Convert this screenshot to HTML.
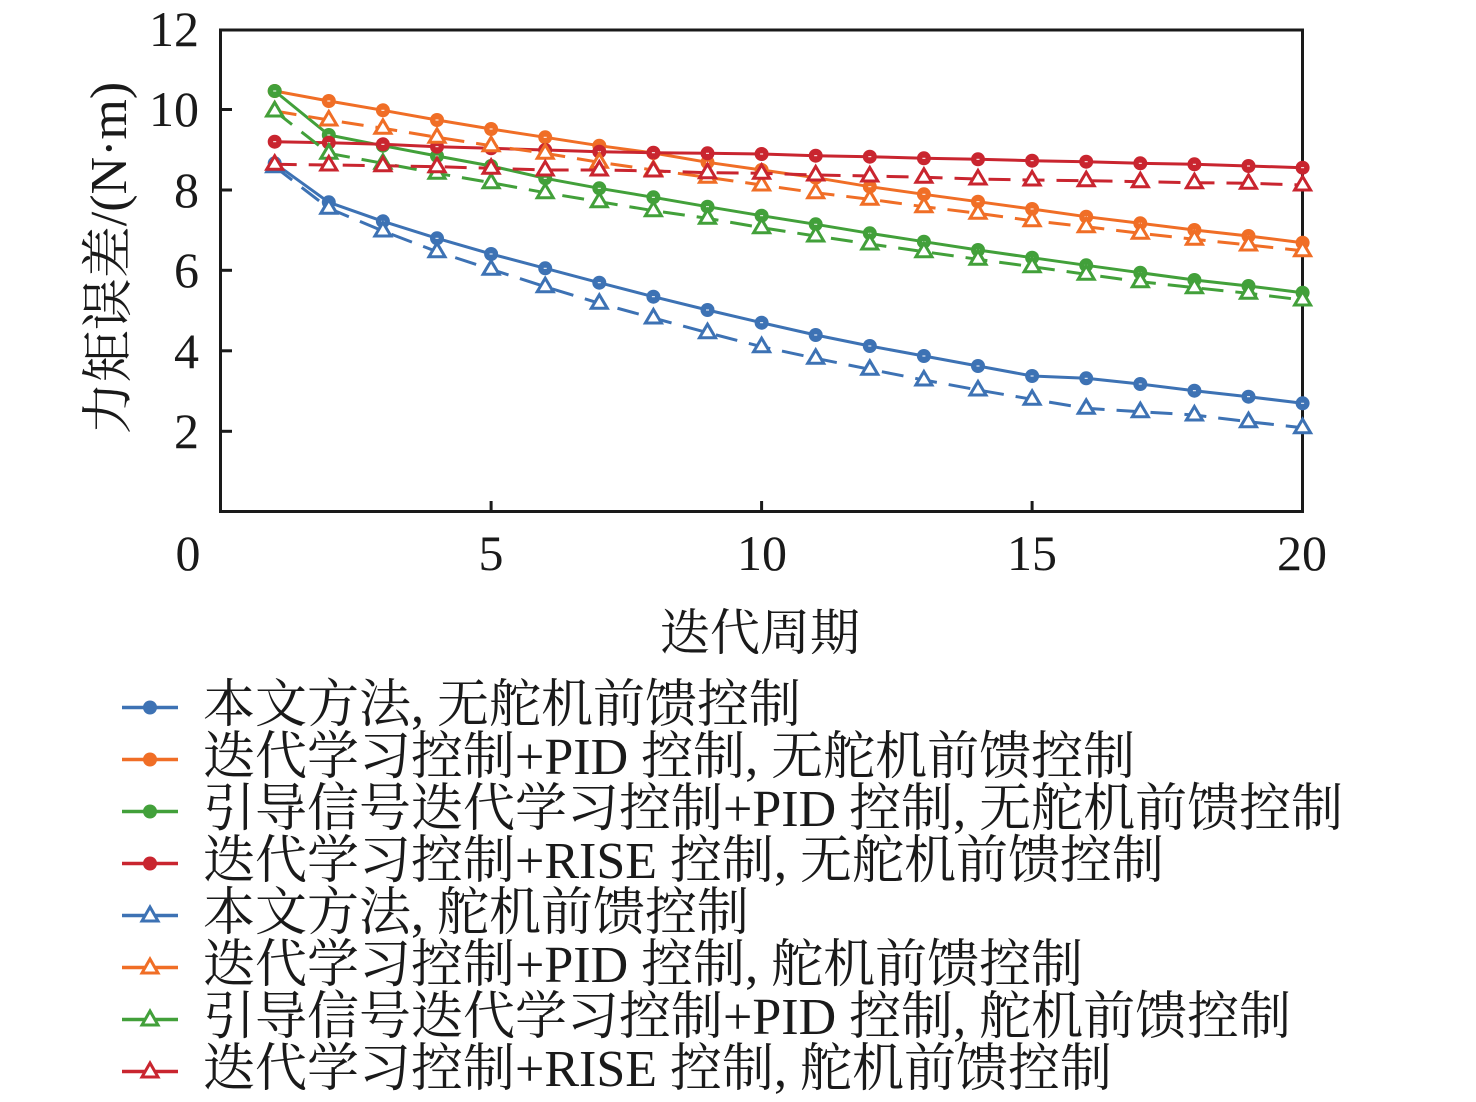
<!DOCTYPE html>
<html>
<head>
<meta charset="utf-8">
<style>
html,body{margin:0;padding:0;background:#fff;}
svg{display:block;}
text{font-family:"Liberation Serif","Noto Serif CJK SC",serif;fill:#1a1a1a;}
</style>
</head>
<body>
<svg width="1476" height="1102" viewBox="0 0 1476 1102" xmlns="http://www.w3.org/2000/svg">
<defs>
  <marker id="cB" markerWidth="24" markerHeight="24" refX="12" refY="12" markerUnits="userSpaceOnUse" overflow="visible"><circle cx="12" cy="12" r="7" fill="#3d72b4"/><line x1="10.5" y1="12" x2="13.5" y2="12" stroke="#fff" stroke-width="1"/></marker>
  <marker id="cO" markerWidth="24" markerHeight="24" refX="12" refY="12" markerUnits="userSpaceOnUse" overflow="visible"><circle cx="12" cy="12" r="7" fill="#f06e26"/><line x1="10.5" y1="12" x2="13.5" y2="12" stroke="#fff" stroke-width="1"/></marker>
  <marker id="cG" markerWidth="24" markerHeight="24" refX="12" refY="12" markerUnits="userSpaceOnUse" overflow="visible"><circle cx="12" cy="12" r="7" fill="#42a03a"/><line x1="10.5" y1="12" x2="13.5" y2="12" stroke="#fff" stroke-width="1"/></marker>
  <marker id="cR" markerWidth="24" markerHeight="24" refX="12" refY="12" markerUnits="userSpaceOnUse" overflow="visible"><circle cx="12" cy="12" r="7" fill="#c9252f"/><line x1="10.5" y1="12" x2="13.5" y2="12" stroke="#fff" stroke-width="1"/></marker>
  <marker id="tB" markerWidth="24" markerHeight="24" refX="12" refY="12" markerUnits="userSpaceOnUse" overflow="visible"><path d="M12,3.5 L20,17 L4,17 Z" fill="#fff" stroke="#3d72b4" stroke-width="3"/></marker>
  <marker id="tO" markerWidth="24" markerHeight="24" refX="12" refY="12" markerUnits="userSpaceOnUse" overflow="visible"><path d="M12,3.5 L20,17 L4,17 Z" fill="#fff" stroke="#f06e26" stroke-width="3"/></marker>
  <marker id="tG" markerWidth="24" markerHeight="24" refX="12" refY="12" markerUnits="userSpaceOnUse" overflow="visible"><path d="M12,3.5 L20,17 L4,17 Z" fill="#fff" stroke="#42a03a" stroke-width="3"/></marker>
  <marker id="tR" markerWidth="24" markerHeight="24" refX="12" refY="12" markerUnits="userSpaceOnUse" overflow="visible"><path d="M12,3.5 L20,17 L4,17 Z" fill="#fff" stroke="#c9252f" stroke-width="3"/></marker>
</defs>

<!-- axes box -->
<rect x="220.5" y="30" width="1082" height="481.5" fill="none" stroke="#1a1a1a" stroke-width="3"/>
<g stroke="#1a1a1a" stroke-width="3">
  <line x1="220" y1="30" x2="232" y2="30"/>
  <line x1="220" y1="109.5" x2="232" y2="109.5"/>
  <line x1="220" y1="190" x2="232" y2="190"/>
  <line x1="220" y1="270.3" x2="232" y2="270.3"/>
  <line x1="220" y1="350.8" x2="232" y2="350.8"/>
  <line x1="220" y1="431.3" x2="232" y2="431.3"/>
  <line x1="491.1" y1="511" x2="491.1" y2="501"/>
  <line x1="761.6" y1="511" x2="761.6" y2="501"/>
  <line x1="1032.1" y1="511" x2="1032.1" y2="501"/>
</g>

<g font-size="50" text-anchor="end">
  <text x="199" y="46">12</text>
  <text x="199" y="126">10</text>
  <text x="199" y="207">8</text>
  <text x="199" y="287">6</text>
  <text x="199" y="368">4</text>
  <text x="199" y="448">2</text>
</g>
<g font-size="50" text-anchor="middle">
  <text x="188" y="570">0</text>
  <text x="491" y="570">5</text>
  <text x="762" y="570">10</text>
  <text x="1032" y="570">15</text>
  <text x="1302" y="570">20</text>
</g>

<text x="760" y="650" font-size="50" text-anchor="middle">迭代周期</text>
<text transform="translate(126,258) rotate(-90)" font-size="52" text-anchor="middle">力矩误差/(N·m)</text>

<g fill="none" stroke-width="3" stroke-linejoin="round">
<polyline stroke="#3d72b4" marker-start="url(#cB)" marker-mid="url(#cB)" marker-end="url(#cB)"
 points="274.7,163.3 328.8,202.3 382.9,221.3 437,238.3 491.1,254 545.2,268.3 599.3,282.7 653.4,296.7 707.5,310 761.6,322.7 815.7,335 869.8,346 923.9,356 978,366 1032.1,376 1086.2,378.3 1140.3,384 1194.4,390.7 1248.5,396.7 1302.6,403.3"/>
<polyline stroke="#f06e26" marker-start="url(#cO)" marker-mid="url(#cO)" marker-end="url(#cO)"
 points="274.7,91 328.8,101 382.9,110.3 437,120 491.1,129 545.2,137.3 599.3,145.7 653.4,153 707.5,162.3 761.6,170 815.7,177.7 869.8,186.7 923.9,194.3 978,201.7 1032.1,209 1086.2,216.7 1140.3,223.3 1194.4,230 1248.5,236 1302.6,242.7"/>
<polyline stroke="#42a03a" marker-start="url(#cG)" marker-mid="url(#cG)" marker-end="url(#cG)"
 points="274.7,91 328.8,135 382.9,145.7 437,156 491.1,166 545.2,178.3 599.3,188.3 653.4,197.3 707.5,206.7 761.6,215.7 815.7,224.3 869.8,233.3 923.9,241.7 978,250 1032.1,257.7 1086.2,265.3 1140.3,272.7 1194.4,280 1248.5,286 1302.6,292.7"/>
<polyline stroke="#c9252f" marker-start="url(#cR)" marker-mid="url(#cR)" marker-end="url(#cR)"
 points="274.7,141.7 328.8,142.7 382.9,144.3 437,146.7 491.1,148.3 545.2,150 599.3,151.7 653.4,152.7 707.5,153.3 761.6,154 815.7,155.7 869.8,156.7 923.9,158.3 978,159.3 1032.1,160.7 1086.2,161.7 1140.3,163.3 1194.4,164.3 1248.5,166 1302.6,167.7"/>
</g>
<g fill="none" stroke-width="3" stroke-dasharray="22 12">
<polyline stroke="#3d72b4" marker-start="url(#tB)" marker-mid="url(#tB)" marker-end="url(#tB)"
 points="274.7,166.7 328.8,208.3 382.9,231 437,251.7 491.1,269.3 545.2,286.7 599.3,303.3 653.4,318 707.5,332.7 761.6,346.7 815.7,358.3 869.8,369.3 923.9,380 978,390 1032.1,399.3 1086.2,408.3 1140.3,411.7 1194.4,415 1248.5,421.7 1302.6,427.7"/>
<polyline stroke="#f06e26" marker-start="url(#tO)" marker-mid="url(#tO)" marker-end="url(#tO)"
 points="274.7,111 328.8,120 382.9,128.3 437,137.3 491.1,145.7 545.2,153.3 599.3,162.3 653.4,170 707.5,177.3 761.6,185 815.7,192.7 869.8,199.3 923.9,206.7 978,213.3 1032.1,220.7 1086.2,226.7 1140.3,233.3 1194.4,239.3 1248.5,245 1302.6,250.7"/>
<polyline stroke="#42a03a" marker-start="url(#tG)" marker-mid="url(#tG)" marker-end="url(#tG)"
 points="274.7,111 328.8,153.3 382.9,163.3 437,173.3 491.1,182.7 545.2,192.7 599.3,201.7 653.4,210.7 707.5,218.3 761.6,227.7 815.7,236 869.8,244 923.9,251.7 978,259.3 1032.1,266.7 1086.2,274.3 1140.3,281.7 1194.4,287.7 1248.5,293.3 1302.6,300"/>
<polyline stroke="#c9252f" marker-start="url(#tR)" marker-mid="url(#tR)" marker-end="url(#tR)"
 points="274.7,164.3 328.8,165 382.9,165.7 437,166.7 491.1,168.3 545.2,170 599.3,170 653.4,171 707.5,172.7 761.6,173.3 815.7,175 869.8,176 923.9,177.3 978,179 1032.1,180 1086.2,180.7 1140.3,181.7 1194.4,182.7 1248.5,183.3 1302.6,185"/>
</g>

<!-- legend -->
<g stroke-width="3.4">
  <line x1="122" y1="707.5" x2="178" y2="707.5" stroke="#3d72b4"/>
  <circle cx="150" cy="707.5" r="7" fill="#3d72b4" stroke="none"/>
  <line x1="122" y1="759.5" x2="178" y2="759.5" stroke="#f06e26"/>
  <circle cx="150" cy="759.5" r="7" fill="#f06e26" stroke="none"/>
  <line x1="122" y1="811.5" x2="178" y2="811.5" stroke="#42a03a"/>
  <circle cx="150" cy="811.5" r="7" fill="#42a03a" stroke="none"/>
  <line x1="122" y1="863.5" x2="178" y2="863.5" stroke="#c9252f"/>
  <circle cx="150" cy="863.5" r="7" fill="#c9252f" stroke="none"/>

  <line x1="122" y1="915.5" x2="178" y2="915.5" stroke="#3d72b4"/>
  <path d="M150,907 L158,921 L142,921 Z" fill="#fff" stroke="#3d72b4" stroke-width="3"/>
  <line x1="122" y1="967.5" x2="178" y2="967.5" stroke="#f06e26"/>
  <path d="M150,959 L158,973 L142,973 Z" fill="#fff" stroke="#f06e26" stroke-width="3"/>
  <line x1="122" y1="1019.5" x2="178" y2="1019.5" stroke="#42a03a"/>
  <path d="M150,1011 L158,1025 L142,1025 Z" fill="#fff" stroke="#42a03a" stroke-width="3"/>
  <line x1="122" y1="1071.5" x2="178" y2="1071.5" stroke="#c9252f"/>
  <path d="M150,1063 L158,1077 L142,1077 Z" fill="#fff" stroke="#c9252f" stroke-width="3"/>
</g>
<g font-size="52">
  <text x="203" y="722">本文方法, 无舵机前馈控制</text>
  <text x="203" y="774">迭代学习控制+PID 控制, 无舵机前馈控制</text>
  <text x="203" y="826">引导信号迭代学习控制+PID 控制, 无舵机前馈控制</text>
  <text x="203" y="878">迭代学习控制+RISE 控制, 无舵机前馈控制</text>
  <text x="203" y="930">本文方法, 舵机前馈控制</text>
  <text x="203" y="982">迭代学习控制+PID 控制, 舵机前馈控制</text>
  <text x="203" y="1034">引导信号迭代学习控制+PID 控制, 舵机前馈控制</text>
  <text x="203" y="1086">迭代学习控制+RISE 控制, 舵机前馈控制</text>
</g>
</svg>
</body>
</html>
